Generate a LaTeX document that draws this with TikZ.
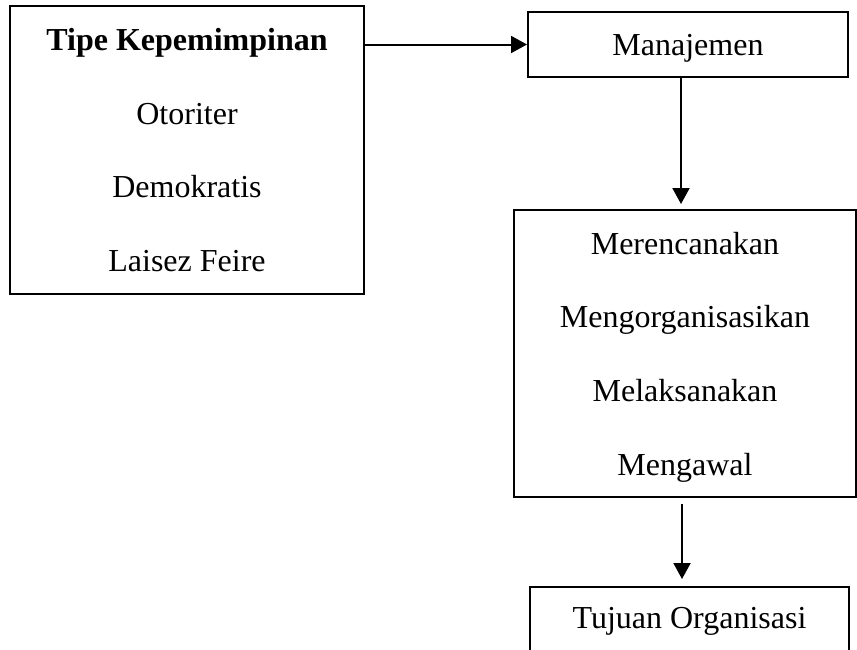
\documentclass[tikz,border=0pt]{standalone}
\usepackage{fontspec}
\setmainfont{Liberation Serif}
\usetikzlibrary{arrows.meta,positioning}
\tikzset{
  box/.style={draw,line width=1pt,align=center,inner sep=0pt,
    font=\fontsize{16}{36.8}\selectfont},
  arr/.style={-{Triangle[length=8pt,width=8.5pt]},line width=1pt}
}

\begin{document}
\begin{tikzpicture}[x=0.5pt,y=-0.5pt]
  \useasboundingbox (0,0) rectangle (857,649);
  % boxes, placed in pixel units of the page
  \node[box,minimum width=177pt,minimum height=144pt] (tipe) at (187,150)
    {\textbf{Tipe Kepemimpinan}\\Otoriter\\Demokratis\\Laisez Feire};
  \node[box,minimum width=160pt,minimum height=32.5pt,text depth=0pt] (manajemen) at (688,44.5) {Manajemen};
  \node[box,minimum width=171pt,minimum height=143.5pt,text depth=0pt] (fungsi) at (685,353.5)
    {Merencanakan\\Mengorganisasikan\\Melaksanakan\\Mengawal};
  \node[box,minimum width=159.5pt,minimum height=36pt,text depth=5pt] (tujuan) at (689.5,623) {Tujuan Organisasi};
  % connectors
  \draw[arr] (tipe.east |- manajemen.west) -- (manajemen.west);
  \draw[arr,shorten >=2.5pt] ([xshift=-3.5pt]manajemen.south) -- ([xshift=-3.5pt]manajemen.south |- fungsi.north);
  \draw[arr,shorten <=3pt,shorten >=3.5pt] ([xshift=-1.5pt]fungsi.south) -- ([xshift=-1.5pt]fungsi.south |- tujuan.north);
\end{tikzpicture}
\end{document}
